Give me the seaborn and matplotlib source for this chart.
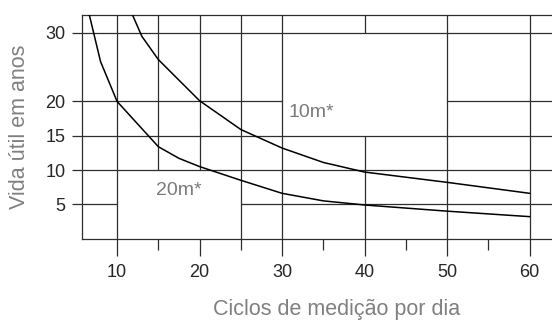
import numpy as np
import pandas as pd
import seaborn as sns
import matplotlib.pyplot as plt
from matplotlib.ticker import MultipleLocator

# values
cycles_20m = [6.6, 8, 10, 15, 17.5, 20, 25, 30, 35, 40, 50, 60]
life_20m = [32.8, 25.8, 20, 13.4, 11.7, 10.5, 8.5, 6.6, 5.5, 4.9, 4.0, 3.2]
cycles_10m = [11.8, 13, 15, 20, 25, 30, 35, 40, 50, 60]
life_10m = [32.8, 29.5, 26.1, 20.1, 15.9, 13.2, 11.1, 9.7, 8.2, 6.6]

x_ticks = [10, 20, 30, 40, 50, 60]
y_ticks = [5, 10, 15, 20, 30]
x_grid = [10, 15, 20, 25, 30, 40, 50, 60]
y_grid = [5, 10, 15, 20, 30]

# blank areas of the grid where the curve names sit (x0, x1, y0, y1)
label_boxes = [(30, 50, 15, 30), (10, 25, 0, 10)]

df = pd.concat([
    pd.DataFrame({'cycles': cycles_10m, 'life': life_10m, 'cable': '10m*'}),
    pd.DataFrame({'cycles': cycles_20m, 'life': life_20m, 'cable': '20m*'}),
])

sns.set_style('white')
plt.rcParams['font.family'] = ['Liberation Sans', 'DejaVu Sans']

xmin, xmax = 5.75, 62.7
ymin, ymax = 0, 32.6

fig = plt.figure(figsize=(5.52, 3.23), dpi=100)
ax = fig.add_axes([82/552, 1 - 238.6/323, 1 - 82/552, (238.6 - 15)/323])


def pieces(pos, lo, hi, vertical):
    # split a grid line so it skips the label boxes
    cuts = []
    for bx0, bx1, by0, by1 in label_boxes:
        a0, a1, b0, b1 = (bx0, bx1, by0, by1) if vertical else (by0, by1, bx0, bx1)
        if a0 < pos < a1:
            cuts.append((b0, b1))
    segs = []
    start = lo
    for c0, c1 in sorted(cuts):
        if c0 > start:
            segs.append((start, c0))
        start = max(start, c1)
    if start < hi:
        segs.append((start, hi))
    return segs


grid_color = '#2e2e2e'
for gx in x_grid:
    for a, b in pieces(gx, ymin, ymax, True):
        ax.plot([gx, gx], [a, b], color=grid_color, lw=0.9, zorder=1)
for gy in y_grid:
    for a, b in pieces(gy, xmin, xmax, False):
        ax.plot([a, b], [gy, gy], color=grid_color, lw=0.9, zorder=1)

sns.lineplot(data=df, x='cycles', y='life', hue='cable', units='cable', estimator=None,
             sort=False, palette={'10m*': 'black', '20m*': 'black'}, lw=1.1,
             legend=False, ax=ax, zorder=3)

ax.text(33.5, 18.4, '10m*', ha='center', va='center', color='#7a7a7a', fontsize=14)
ax.text(17.5, 7.0, '20m*', ha='center', va='center', color='#7a7a7a', fontsize=14)

ax.set_xlim(xmin, xmax)
ax.set_ylim(ymin, ymax)
ax.set_xticks(x_ticks)
ax.xaxis.set_minor_locator(MultipleLocator(5))
ax.set_yticks(y_ticks)
ax.tick_params(axis='x', which='major', direction='out', length=12.5, width=0.9,
               color=grid_color, pad=6, labelsize=13, bottom=True)
ax.tick_params(axis='x', which='minor', direction='out', length=8, width=0.9,
               color=grid_color, bottom=True)
ax.tick_params(axis='y', direction='out', length=7, width=0.9, color=grid_color,
               pad=5, labelsize=13, left=True)
ax.set_xlabel('')
ax.set_ylabel('')

for side in ['left', 'bottom', 'top']:
    ax.spines[side].set_visible(True)
    ax.spines[side].set_color(grid_color)
    ax.spines[side].set_linewidth(0.9)
ax.spines['right'].set_visible(False)

fig.text(337/552, 1 - 310/323, 'Ciclos de medição por dia', ha='center', va='center',
         color='#808080', fontsize=15.5)
fig.text(20/552, 1 - 127/323, 'Vida útil em anos', ha='center', va='center',
         rotation=90, color='#808080', fontsize=15.5)

fig.savefig('out.png', dpi=100)
